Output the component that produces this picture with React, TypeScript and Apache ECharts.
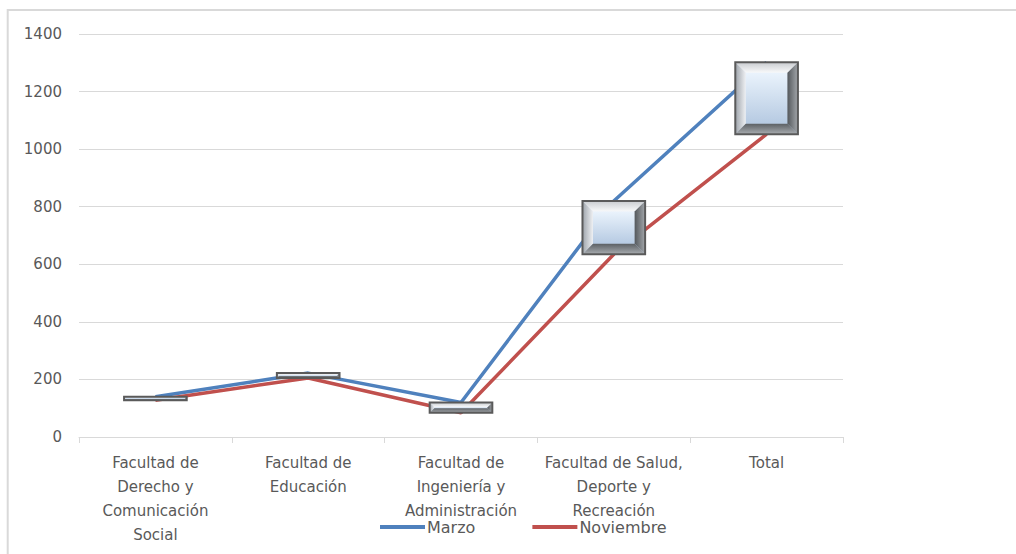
import React, { useEffect, useRef } from "react";
import * as echarts from "echarts";

const categories = [
  "Facultad de\nDerecho y\nComunicación\nSocial",
  "Facultad de\nEducación",
  "Facultad de\nIngeniería y\nAdministración",
  "Facultad de Salud,\nDeporte y\nRecreación",
  "Total",
];
const marzo = [140, 222, 120, 820, 1302];
const noviembre = [128, 205, 84, 635, 1052];
const yTicks = { min: 0, max: 1400, interval: 200 };

const FONT = "DejaVu Sans";

function lg(x0: number, y0: number, x1: number, y1: number, c0: string, c1: string) {
  return new echarts.graphic.LinearGradient(x0, y0, x1, y1, [
    { offset: 0, color: c0 },
    { offset: 1, color: c1 },
  ]);
}

export default function App() {
  const ref = useRef<HTMLDivElement>(null);
  useEffect(() => {
    if (!ref.current) return;
    const chart = echarts.init(ref.current, null, { renderer: "svg" });
    const boxData = categories.map((_, i) => [i, noviembre[i], marzo[i]]);
    chart.setOption({
      animation: false,
      backgroundColor: "#ffffff",
      graphic: [
        {
          type: "rect",
          shape: { x: 7.7, y: 10, width: 1100, height: 600 },
          style: { fill: "transparent", stroke: "#d9d9d9", lineWidth: 2 },
          silent: true,
          z: 0,
        },
      ],
      grid: { left: 79, right: 173, top: 34, bottom: 117 },
      legend: {
        left: 380,
        top: 518,
        padding: 0,
        itemWidth: 45,
        itemHeight: 4,
        itemGap: 57,
        icon: "rect",
        data: ["Marzo", "Noviembre"],
        textStyle: { fontFamily: FONT, fontSize: 16, color: "#595959", lineHeight: 18, padding: [0, 0, 0, -3] },
      },
      xAxis: {
        type: "category",
        data: categories,
        boundaryGap: true,
        axisLine: { show: true, lineStyle: { color: "#d9d9d9", width: 1 } },
        axisTick: { show: true, length: 6, lineStyle: { color: "#d9d9d9" } },
        axisLabel: {
          interval: 0,
          margin: 14,
          fontFamily: FONT,
          fontSize: 15,
          lineHeight: 24,
          color: "#595959",
        },
        splitLine: { show: false },
      },
      yAxis: {
        type: "value",
        min: yTicks.min,
        max: yTicks.max,
        interval: yTicks.interval,
        axisLine: { show: false },
        axisTick: { show: false },
        axisLabel: {
          margin: 17,
          fontFamily: FONT,
          fontSize: 15,
          color: "#595959",
          formatter: (v: number) => String(v),
        },
        splitLine: { lineStyle: { color: "#d9d9d9", width: 1 } },
      },
      series: [
        {
          name: "Marzo",
          type: "line",
          data: marzo,
          symbol: "none",
          lineStyle: { color: "#4f81bd", width: 3.5 },
          itemStyle: { color: "#4f81bd" },
          z: 2,
        },
        {
          name: "Noviembre",
          type: "line",
          data: noviembre,
          symbol: "none",
          lineStyle: { color: "#c0504d", width: 3.5 },
          itemStyle: { color: "#c0504d" },
          z: 2,
        },
        {
          name: "updown",
          type: "custom",
          data: boxData,
          encode: { x: 0, y: [1, 2] },
          z: 5,
          silent: true,
          renderItem: (params: any, api: any) => {
            const i = api.value(0);
            const lo = api.value(1);
            const hi = api.value(2);
            const pA = api.coord([i, hi]);
            const pB = api.coord([i, lo]);
            const w = api.size([1, 0])[0] * 0.41;
            const x0 = pA[0] - w / 2;
            const x1 = pA[0] + w / 2;
            const y0 = Math.min(pA[1], pB[1]);
            const y1 = Math.max(pA[1], pB[1]);
            const h = y1 - y0;
            const b = Math.max(0, Math.min(10.5, h / 2 - 0.5, w / 2));
            const children: any[] = [];
            children.push({
              type: "rect",
              shape: { x: x0, y: y0, width: w, height: h },
              style: { fill: lg(0, 0, 0, 1, "#eaf2fb", "#b8cbe3") },
            });
            if (b > 1) {
              children.push({
                type: "rect",
                shape: { x: x0 + b, y: y0 + b, width: w - 2 * b, height: h - 2 * b },
                style: { fill: lg(0, 0, 0, 1, "#eaf3fc", "#b6cae2") },
              });
              children.push({
                type: "polygon",
                shape: { points: [[x0, y0], [x1, y0], [x1 - b, y0 + b], [x0 + b, y0 + b]] },
                style: { fill: lg(0, 0, 0, 1, "#c9ccd0", "#f8f9fa") },
              });
              children.push({
                type: "polygon",
                shape: { points: [[x0, y0], [x0 + b, y0 + b], [x0 + b, y1 - b], [x0, y1]] },
                style: { fill: lg(0, 0, 1, 0, "#9ea4ab", "#eef0f3") },
              });
              children.push({
                type: "polygon",
                shape: { points: [[x1, y0], [x1, y1], [x1 - b, y1 - b], [x1 - b, y0 + b]] },
                style: { fill: lg(0, 0, 1, 0, "#54585c", "#a3a7ab") },
              });
              children.push({
                type: "polygon",
                shape: { points: [[x0, y1], [x0 + b, y1 - b], [x1 - b, y1 - b], [x1, y1]] },
                style: { fill: lg(0, 0, 0, 1, "#5c6064", "#a9adb1") },
              });
            }
            children.push({
              type: "rect",
              shape: { x: x0, y: y0, width: w, height: h },
              style: { fill: "transparent", stroke: "#5a5a5a", lineWidth: 2 },
            });
            return { type: "group", children };
          },
        },
      ],
    });
    return () => chart.dispose();
  }, []);
  return (
    <div
      ref={ref}
      style={{ position: "fixed", left: 0, top: 0, width: 1016, height: 554, background: "#fff" }}
    />
  );
}
